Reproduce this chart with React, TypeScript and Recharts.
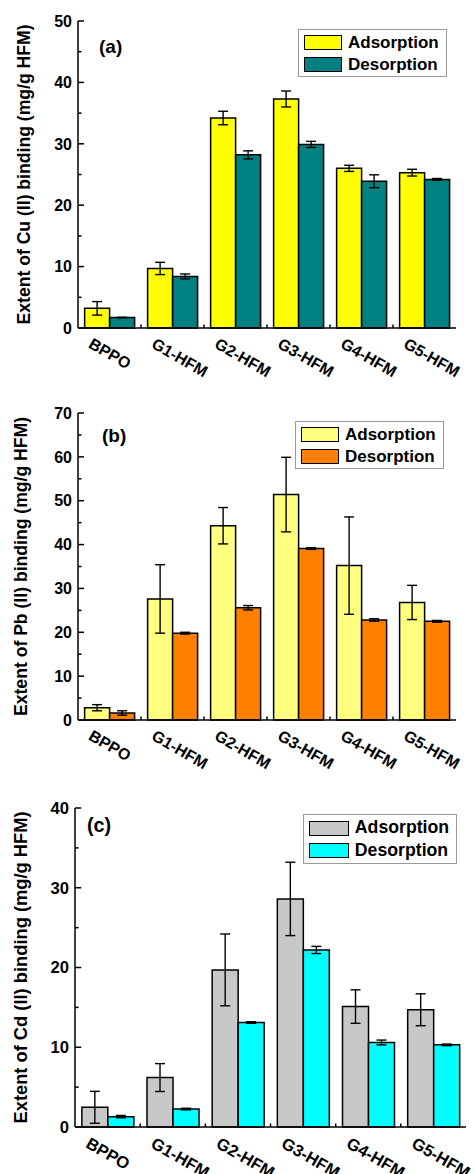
import { BarChart, Bar, XAxis, YAxis, ErrorBar, Legend } from 'recharts'

const FONT = '"Liberation Sans", Arial, sans-serif'

const categories = ['BPPO', 'G1-HFM', 'G2-HFM', 'G3-HFM', 'G4-HFM', 'G5-HFM']

// (a) Cu(II)
const cuAdsorption = [3.2, 9.7, 34.2, 37.3, 26.0, 25.3]
const cuAdsorptionErr = [1.1, 1.0, 1.1, 1.3, 0.5, 0.55]
const cuDesorption = [1.7, 8.4, 28.2, 29.9, 23.9, 24.2]
const cuDesorptionErr = [0.05, 0.4, 0.65, 0.5, 1.05, 0.15]
const cuTicks = [0, 5, 10, 15, 20, 25, 30, 35, 40, 45, 50]

// (b) Pb(II)
const pbAdsorption = [2.8, 27.6, 44.3, 51.4, 35.2, 26.8]
const pbAdsorptionErr = [0.7, 7.8, 4.15, 8.5, 11.1, 3.9]
const pbDesorption = [1.6, 19.8, 25.6, 39.1, 22.8, 22.5]
const pbDesorptionErr = [0.5, 0.2, 0.5, 0.2, 0.3, 0.2]
const pbTicks = [0, 5, 10, 15, 20, 25, 30, 35, 40, 45, 50, 55, 60, 65, 70]

// (c) Cd(II)
const cdAdsorption = [2.47, 6.2, 19.7, 28.6, 15.1, 14.7]
const cdAdsorptionErr = [2.0, 1.75, 4.5, 4.6, 2.1, 2.0]
const cdDesorption = [1.3, 2.25, 13.1, 22.2, 10.6, 10.3]
const cdDesorptionErr = [0.15, 0.1, 0.1, 0.45, 0.3, 0.1]
const cdTicks = [0, 5, 10, 15, 20, 25, 30, 35, 40]

const TICK_MARGIN = 6

function buildRows(ads: number[], adsErr: number[], des: number[], desErr: number[]) {
  return categories.map((name, i) => ({
    name,
    ads: ads[i],
    adsErr: adsErr[i],
    des: des[i],
    desErr: desErr[i],
  }))
}

const YTick = (props: any) => {
  const { x, y, payload, s } = props
  const major = payload.value % 10 === 0
  const ax = x + TICK_MARGIN
  return (
    <g>
      <line x1={ax} x2={ax + (major ? 6 : 3.5) * s} y1={y} y2={y} stroke="#000" strokeWidth={1.5} />
      {major && (
        <text x={x} y={y} dy="0.36em" textAnchor="end" fontFamily={FONT} fontWeight="bold" fontSize={16 * s} fill="#000">
          {payload.value}
        </text>
      )}
    </g>
  )
}

const XTick = (props: any) => {
  const { x, y, payload, index, s } = props
  const half = payload.offset || 0
  return (
    <g>
      {index < categories.length - 1 && (
        <line x1={x + half} x2={x + half} y1={y} y2={y - 3.5} stroke="#000" strokeWidth={1.5} />
      )}
      <g transform={`translate(${x - 22 * s},${y + 19 * s}) rotate(30)`}>
        <text x={0} y={0} textAnchor="start" fontFamily={FONT} fontWeight="bold" fontSize={16 * s} fill="#000">
          {payload.value}
        </text>
      </g>
    </g>
  )
}

function LegendBox({ payload, s }: { payload?: any[]; s: number }) {
  return (
    <div
      style={{
        border: '1px solid #999',
        background: '#fff',
        padding: `${2 * s}px ${7 * s}px ${1 * s}px ${5 * s}px`,
        fontFamily: FONT,
        fontWeight: 'bold',
        fontSize: 17 * s,
        color: '#000',
        lineHeight: 1,
      }}
    >
      {(payload || []).map((p: any) => (
        <div key={p.value} style={{ display: 'flex', alignItems: 'center', height: 21.5 * s }}>
          <span
            style={{
              display: 'inline-block',
              width: 36 * s,
              height: 13 * s,
              background: p.color,
              border: '1.5px solid #000',
              marginRight: 6 * s,
            }}
          />
          <span>{p.value}</span>
        </div>
      ))}
    </div>
  )
}

type PanelProps = {
  top: number
  height: number
  plotTop: number
  plotBottom: number
  plotLeft: number
  plotRight: number
  s: number
  rows: any[]
  ticks: number[]
  adsColor: string
  desColor: string
  yLabel: string
  labelX: number
  tag: string
  tagX: number
  tagY: number
  legendX: number
  legendY: number
}

function Panel(p: PanelProps) {
  const W = 474
  return (
    <div style={{ position: 'absolute', left: 0, top: p.top, width: W, height: p.height }}>
      <BarChart
        width={W}
        height={p.height}
        data={p.rows}
        margin={{ top: p.plotTop, right: W - p.plotRight, bottom: 0, left: 0 }}
        barCategoryGap="10.5%"
        barGap={0}
      >
        <XAxis
          dataKey="name"
          height={p.height - p.plotBottom}
          axisLine={{ stroke: '#000', strokeWidth: 1.5 }}
          tickLine={false}
          tickSize={0}
          tickMargin={0}
          interval={0}
          tick={<XTick s={p.s} />}
        />
        <XAxis xAxisId="top" dataKey="name" orientation="top" height={0} tick={false} tickLine={false} axisLine={{ stroke: '#000', strokeWidth: 1.5 }} />
        <YAxis
          width={p.plotLeft}
          domain={[0, p.ticks[p.ticks.length - 1]]}
          ticks={p.ticks}
          interval={0}
          axisLine={{ stroke: '#000', strokeWidth: 1.5 }}
          tickLine={false}
          tickSize={0}
          tickMargin={TICK_MARGIN}
          tick={<YTick s={p.s} />}
          label={{
            content: (lp: any) => {
              const vb = lp.viewBox || {}
              const cy = vb.y + vb.height / 2
              return (
                <text
                  transform={`translate(${vb.x + p.labelX},${cy}) rotate(-90)`}
                  textAnchor="middle"
                  dy="0.36em"
                  fontFamily={FONT}
                  fontWeight="bold"
                  fontSize={17.6 * p.s}
                  fill="#000"
                >
                  {p.yLabel}
                </text>
              )
            },
          }}
        />
        <YAxis yAxisId="right" orientation="right" width={0} domain={[0, 1]} tick={false} tickLine={false} axisLine={{ stroke: '#000', strokeWidth: 1.5 }} />
        <Legend
          layout="horizontal"
          verticalAlign="middle"
          align="center"
          wrapperStyle={{ left: p.legendX, top: p.legendY, width: 'auto', height: 'auto' }}
          content={(lp: any) => <LegendBox payload={lp.payload} s={p.s} />}
        />
        <Bar dataKey="ads" name="Adsorption" fill={p.adsColor} stroke="#000" strokeWidth={1.5} isAnimationActive={false}>
          <ErrorBar dataKey="adsErr" width={5} stroke="#000" strokeWidth={1.4} isAnimationActive={false} />
        </Bar>
        <Bar dataKey="des" name="Desorption" fill={p.desColor} stroke="#000" strokeWidth={1.5} isAnimationActive={false}>
          <ErrorBar dataKey="desErr" width={5} stroke="#000" strokeWidth={1.4} isAnimationActive={false} />
        </Bar>
      </BarChart>
      <div
        style={{
          position: 'absolute',
          left: p.tagX,
          top: p.tagY,
          fontFamily: FONT,
          fontWeight: 'bold',
          fontSize: 19 * p.s,
          lineHeight: 1,
          color: '#000',
        }}
      >
        {p.tag}
      </div>
    </div>
  )
}

export default function App() {
  return (
    <div style={{ position: 'relative', width: 474, height: 1174, background: '#fff', overflow: 'hidden' }}>
      <style>{'body{margin:0}'}</style>
      <Panel
        top={0}
        height={390}
        plotTop={21}
        plotBottom={328}
        plotLeft={78}
        plotRight={456}
        s={1}
        rows={buildRows(cuAdsorption, cuAdsorptionErr, cuDesorption, cuDesorptionErr)}
        ticks={cuTicks}
        adsColor="#FFFF00"
        desColor="#008080"
        yLabel="Extent of Cu (II) binding (mg/g HFM)"
        labelX={24}
        tag="(a)"
        tagX={99}
        tagY={37}
        legendX={298}
        legendY={29}
      />
      <Panel
        top={390}
        height={390}
        plotTop={23}
        plotBottom={330}
        plotLeft={78}
        plotRight={456}
        s={1}
        rows={buildRows(pbAdsorption, pbAdsorptionErr, pbDesorption, pbDesorptionErr)}
        ticks={pbTicks}
        adsColor="#FFFF80"
        desColor="#FF8000"
        yLabel="Extent of Pb (II) binding (mg/g HFM)"
        labelX={21}
        tag="(b)"
        tagX={102}
        tagY={36}
        legendX={295}
        legendY={31}
      />
      <Panel
        top={780}
        height={394}
        plotTop={28}
        plotBottom={347}
        plotLeft={75}
        plotRight={466}
        s={1.04}
        rows={buildRows(cdAdsorption, cdAdsorptionErr, cdDesorption, cdDesorptionErr)}
        ticks={cdTicks}
        adsColor="#C8C8C8"
        desColor="#00FFFF"
        yLabel="Extent of Cd (II) binding (mg/g HFM)"
        labelX={20}
        tag="(c)"
        tagX={87}
        tagY={36}
        legendX={303}
        legendY={34}
      />
    </div>
  )
}
